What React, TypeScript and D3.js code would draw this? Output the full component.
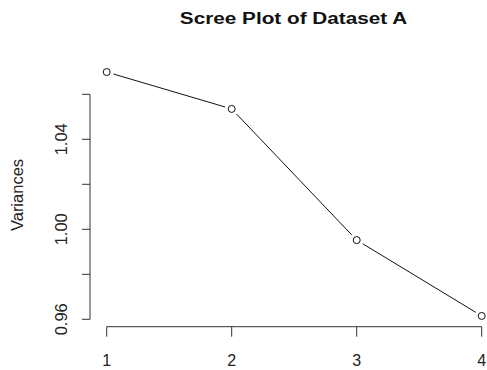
import * as d3 from "d3";
import { useEffect, useRef } from "react";

const components = [1, 2, 3, 4];
const variances = [1.0699, 1.0535, 0.9952, 0.9615];
const yTicks = [0.96, 0.98, 1.0, 1.02, 1.04, 1.06];
const yLabels = [0.96, 1.0, 1.04];

const W = 487;
const H = 370;
const font = "'Liberation Sans', Arial, Helvetica, sans-serif";

export default function App() {
  const ref = useRef<SVGSVGElement>(null);

  useEffect(() => {
    const svg = d3.select(ref.current);
    svg.selectAll("*").remove();

    const x = d3.scaleLinear().domain([1, 4]).range([106.7, 481.7]);
    const y = d3.scaleLinear().domain([0.96, 1.0]).range([319.3, 229.3]);
    const axisColor = "#333";

    // title
    svg
      .append("text")
      .attr("transform", `translate(293.5,24) scale(1.22,1)`)
      .attr("text-anchor", "middle")
      .attr("font-family", font)
      .attr("font-weight", 700)
      .attr("font-size", 17)
      .attr("fill", "#111")
      .text("Scree Plot of Dataset A");

    // y axis
    const yAxisX = 90;
    svg
      .append("line")
      .attr("x1", yAxisX)
      .attr("x2", yAxisX)
      .attr("y1", y(yTicks[0]))
      .attr("y2", y(yTicks[yTicks.length - 1]))
      .attr("stroke", axisColor);
    svg
      .selectAll(".yt")
      .data(yTicks)
      .join("line")
      .attr("x1", yAxisX - 8)
      .attr("x2", yAxisX)
      .attr("y1", (d) => y(d))
      .attr("y2", (d) => y(d))
      .attr("stroke", axisColor);
    svg
      .selectAll(".yl")
      .data(yLabels)
      .join("text")
      .attr("transform", (d) => `translate(67,${y(d)}) rotate(-90)`)
      .attr("text-anchor", "middle")
      .attr("font-family", font)
      .attr("font-size", 16.5)
      .attr("fill", "#222")
      .text((d) => d3.format(".2f")(d));

    svg
      .append("text")
      .attr("transform", `translate(23,195) rotate(-90)`)
      .attr("text-anchor", "middle")
      .attr("font-family", font)
      .attr("font-size", 16.5)
      .attr("fill", "#222")
      .text("Variances");

    // x axis
    const xAxisY = 326.7;
    svg
      .append("line")
      .attr("x1", x(1))
      .attr("x2", x(4))
      .attr("y1", xAxisY)
      .attr("y2", xAxisY)
      .attr("stroke", axisColor);
    svg
      .selectAll(".xt")
      .data(components)
      .join("line")
      .attr("x1", (d) => x(d))
      .attr("x2", (d) => x(d))
      .attr("y1", xAxisY)
      .attr("y2", xAxisY + 10)
      .attr("stroke", axisColor);
    svg
      .selectAll(".xl")
      .data(components)
      .join("text")
      .attr("x", (d) => x(d))
      .attr("y", 365.5)
      .attr("text-anchor", "middle")
      .attr("font-family", font)
      .attr("font-size", 16)
      .attr("fill", "#222")
      .text((d) => String(d));

    // line with gaps around points (R type="b")
    const pts = components.map((c, i) => [x(c), y(variances[i])] as [number, number]);
    const gap = 7;
    for (let i = 0; i < pts.length - 1; i++) {
      const [x1, y1] = pts[i];
      const [x2, y2] = pts[i + 1];
      const len = Math.hypot(x2 - x1, y2 - y1);
      const ux = (x2 - x1) / len;
      const uy = (y2 - y1) / len;
      svg
        .append("line")
        .attr("x1", x1 + ux * gap)
        .attr("y1", y1 + uy * gap)
        .attr("x2", x2 - ux * gap)
        .attr("y2", y2 - uy * gap)
        .attr("stroke", "#111")
        .attr("stroke-width", 1);
    }

    svg
      .selectAll(".pt")
      .data(pts)
      .join("circle")
      .attr("cx", (d) => d[0])
      .attr("cy", (d) => d[1])
      .attr("r", 3.5)
      .attr("fill", "none")
      .attr("stroke", "#111")
      .attr("stroke-width", 1);
  }, []);

  return (
    <svg
      ref={ref}
      width={W}
      height={H}
      style={{ position: "absolute", left: 0, top: 0, background: "#fff" }}
    />
  );
}
